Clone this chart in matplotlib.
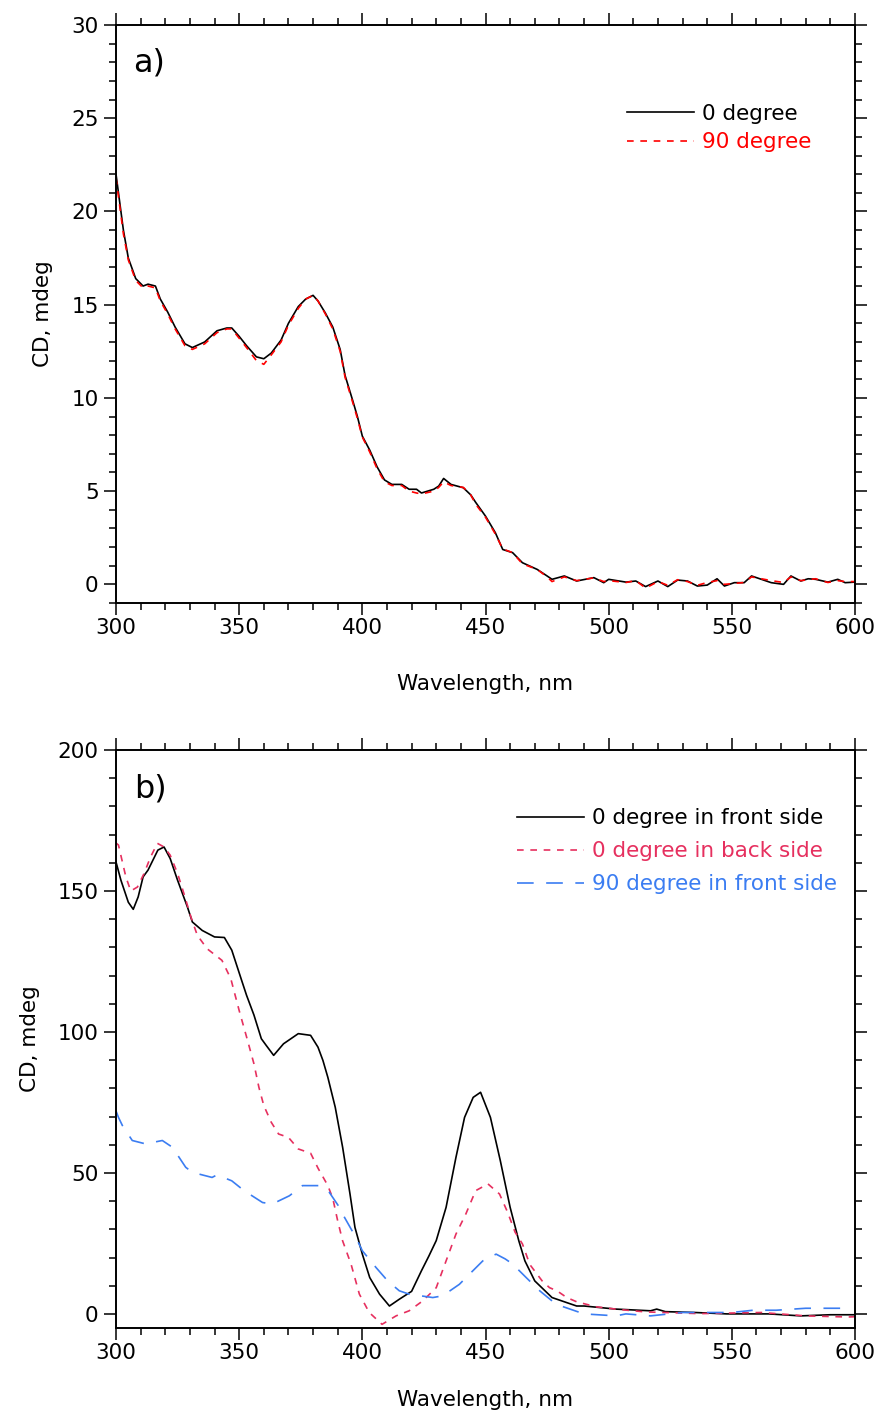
import matplotlib
matplotlib.use("Agg")
import matplotlib.pyplot as plt
from matplotlib.ticker import MultipleLocator

# ---- panel a) : CD of film, 0 vs 90 degree rotation ----
wl_a = [300, 301, 302, 303, 305, 308, 311, 313, 316, 318, 321, 324, 328, 331, 336,
        341, 345, 347, 350, 353, 357, 360, 363, 367, 370, 374, 377, 380, 382, 385,
        388, 391, 393, 396, 398, 400, 403, 406, 409, 412, 416, 419, 422, 424, 429,
        431, 433, 436, 441, 444, 446, 450, 454, 457, 461, 465, 471, 475, 477, 482,
        487, 494, 498, 500, 507, 511, 515, 520, 524, 528, 532, 536, 540, 544, 547,
        551, 555, 558, 562, 566, 571, 574, 578, 581, 584, 589, 593, 596, 600]
cd_a_0deg = [22.0, 21.0, 20.0, 19.0, 17.5, 16.4, 16.0, 16.1, 16.0, 15.3, 14.6, 13.8, 12.9, 12.7, 13.0,
             13.6, 13.75, 13.75, 13.3, 12.8, 12.2, 12.1, 12.4, 13.1, 14.0, 14.9, 15.3, 15.5, 15.2, 14.55,
             13.8, 12.6, 11.2, 9.9, 9.0, 7.95, 7.2, 6.3, 5.6, 5.36, 5.36, 5.1, 5.1, 4.9, 5.1,
             5.27, 5.68, 5.36, 5.18, 4.8, 4.4, 3.66, 2.77, 1.87, 1.7, 1.16, 0.8, 0.45, 0.27, 0.45,
             0.18, 0.36, 0.09, 0.27, 0.12, 0.18, -0.12, 0.18, -0.12, 0.23, 0.18, -0.09, -0.04, 0.3, -0.09,
             0.09, 0.09, 0.45, 0.27, 0.09, 0.0, 0.45, 0.18, 0.3, 0.27, 0.12, 0.27, 0.09, 0.12]
cd_a_90deg = [21.8, 20.8, 19.8, 18.8, 17.4, 16.3, 15.9, 16.0, 15.9, 15.2, 14.5, 13.7, 12.8, 12.6, 12.9,
              13.5, 13.7, 13.7, 13.2, 12.7, 12.0, 11.8, 12.3, 13.0, 13.9, 14.8, 15.3, 15.5, 15.2, 14.5,
              13.7, 12.5, 11.1, 9.8, 8.9, 7.9, 7.1, 6.2, 5.5, 5.3, 5.3, 5.0, 4.9, 4.85, 5.0,
              5.2, 5.5, 5.3, 5.2, 4.8, 4.3, 3.6, 2.7, 1.9, 1.7, 1.1, 0.8, 0.4, 0.15, 0.4,
              0.2, 0.35, 0.15, 0.2, 0.1, 0.2, -0.2, 0.15, -0.05, 0.25, 0.15, -0.05, 0.1, 0.2, 0.0,
              0.05, 0.1, 0.4, 0.3, 0.2, 0.1, 0.4, 0.2, 0.25, 0.3, 0.1, 0.2, 0.15, 0.15]

# ---- panel b) : front / back side and 90 degree ----
wl_b_front0 = [300, 302, 305, 307, 309, 311, 313, 317, 319.5, 322, 325, 329, 331, 335, 340,
               344, 347, 351, 353, 356, 359, 361, 364, 368, 374, 379, 382, 384, 386, 389,
               392, 395, 397, 400, 403, 407, 411, 415, 420, 424, 427, 430, 434, 438, 441.5, 445,
               448, 452, 456, 460, 463.5, 466, 470, 477, 483, 487, 490, 503, 517, 519.5, 523,
               535, 548, 565, 578, 590, 600]
cd_b_front0 = [160.3, 153.8, 146.0, 143.5, 147.9, 155.0, 157.4, 164.5, 165.6, 161.5, 153.8, 144.3, 139.0, 136.0, 133.7,
               133.5, 129.0, 118.3, 113.0, 106.0, 97.6, 95.2, 91.7, 95.8, 99.4, 98.8, 94.6, 89.9, 83.9, 73.3,
               59.1, 42.5, 30.7, 21.2, 12.9, 7.0, 2.8, 5.2, 8.0, 15.3, 20.5, 26.0, 37.8, 55.5, 69.7, 76.8,
               78.6, 69.7, 54.4, 37.8, 26.0, 18.8, 11.7, 5.8, 4.0, 2.8, 2.8, 1.7, 1.1, 1.7, 0.8,
               0.5, 0.0, 0.0, -0.7, -0.3, -0.3]

wl_b_back0 = [300, 301, 304, 306, 308.7, 311.4, 314, 316.8, 319.5, 322, 325, 327.6, 330.4, 333, 337,
              343, 346.6, 350, 353.4, 356, 358, 360, 363, 366, 370, 374, 379, 382, 386, 388,
              390, 392, 395.4, 398.8, 402.8, 408, 413.7, 419, 424.5, 430, 434, 438, 442, 446, 451,
              455.7, 459, 462, 465, 468, 473, 476, 479, 483, 487, 495, 505, 515, 537, 562,
              580, 597, 600]
cd_b_back0 = [167.0, 166.3, 155.0, 150.0, 151.4, 156.2, 162.0, 166.9, 165.6, 162.7, 156.2, 149.0, 140.8, 134.3, 129.5,
              125.4, 118.9, 107.6, 97.0, 88.7, 80.4, 73.9, 68.0, 63.8, 62.6, 58.5, 57.0, 51.7, 45.5, 41.0,
              33.0, 25.9, 17.7, 7.0, 0.5, -3.7, -0.7, 1.1, 4.6, 9.3, 18.8, 28.3, 35.4, 43.7, 46.1,
              42.5, 36.0, 29.0, 24.8, 17.5, 11.7, 9.3, 8.2, 5.8, 4.3, 2.5, 1.5, 0.7, 0.1, 0.5,
              -0.7, -1.1, -1.0]

wl_b_front90 = [300, 301, 302.6, 306.6, 312, 318.8, 322.9, 328.3, 331, 339, 341, 347, 352, 359.5, 363.5,
                370.4, 375.7, 382.5, 386.6, 390.7, 392, 397.4, 400, 405.6, 410.3, 415, 419, 428.6, 432.6,
                439.4, 443.5, 448.9, 454.3, 458, 461, 466.5, 472, 478.7, 485, 490, 503, 507, 517, 530,
                550, 558.6, 568, 580, 591, 597]
cd_b_front90 = [72.0, 69.7, 66.8, 61.5, 60.3, 61.5, 59.1, 52.0, 50.2, 48.4, 49.3, 47.2, 43.7, 39.5, 39.0,
                41.9, 45.5, 45.5, 43.1, 37.8, 35.4, 27.1, 22.4, 16.4, 11.7, 8.2, 7.0, 5.8, 6.4,
                10.5, 14.1, 18.8, 21.2, 19.5, 17.7, 12.9, 8.2, 3.4, 1.5, 0.0, -0.7, 0.0, -0.7, 0.5,
                0.5, 1.3, 1.3, 2.0, 2.0, 2.0]

red_a = "#ff0000"
red_b = "#e6305f"
blue_b = "#3b7df2"
FS = 15.5

plt.rcParams["font.family"] = ["DejaVu Sans"]
plt.rcParams["font.size"] = FS


def style_axes(ax, ymin, ymax, ymajor, yminor):
    ax.set_xlim(300, 600)
    ax.set_ylim(ymin, ymax)
    ax.xaxis.set_major_locator(MultipleLocator(50))
    ax.xaxis.set_minor_locator(MultipleLocator(10))
    ax.yaxis.set_major_locator(MultipleLocator(ymajor))
    ax.yaxis.set_minor_locator(MultipleLocator(yminor))
    ax.tick_params(which="both", direction="out", top=True, right=True, width=1.1, colors="black")
    ax.tick_params(which="major", length=8.5, labelsize=FS)
    ax.tick_params(which="minor", length=4.7)
    ax.tick_params(axis="x", which="major", pad=2.5)
    ax.tick_params(axis="y", which="major", pad=4)
    for s in ax.spines.values():
        s.set_linewidth(1.4)
    ax.set_ylabel("CD, mdeg", fontsize=FS, labelpad=13)


fig = plt.figure(figsize=(8.81, 14.15), dpi=100)
W, H = 881, 1415
ax1 = fig.add_axes([116 / W, 1 - 603 / H, 739 / W, 578 / H])
ax2 = fig.add_axes([116 / W, 1 - 1328 / H, 739 / W, 578 / H])

# panel a
l0, = ax1.plot(wl_a, cd_a_0deg, color="black", lw=1.2, label="0 degree")
l90, = ax1.plot(wl_a, cd_a_90deg, color=red_a, lw=1.2, dashes=(4, 4), label="90 degree")
style_axes(ax1, -1, 30, 5, 1)
ax1.set_xlabel("Wavelength, nm", fontsize=FS, labelpad=26)
ax1.text(0.023, 0.919, "a)", transform=ax1.transAxes, fontsize=23, va="baseline")
ax1.legend(handles=[l0, l90], loc="upper left", bbox_to_anchor=(0.6915, 0.864),
           frameon=False, borderpad=0, borderaxespad=0, handlelength=3.1,
           handletextpad=0.4, labelspacing=0.4, labelcolor="linecolor", fontsize=FS)

# panel b
b1, = ax2.plot(wl_b_front0, cd_b_front0, color="black", lw=1.2, label="0 degree in front side")
b2, = ax2.plot(wl_b_back0, cd_b_back0, color=red_b, lw=1.2, dashes=(4, 4), label="0 degree in back side")
b3, = ax2.plot(wl_b_front90, cd_b_front90, color=blue_b, lw=1.2, dashes=(10, 7.5), label="90 degree in front side")
style_axes(ax2, -5, 200, 50, 10)
ax2.set_xlabel("Wavelength, nm", fontsize=FS, labelpad=19)
ax2.text(0.025, 0.917, "b)", transform=ax2.transAxes, fontsize=23, va="baseline")
ax2.legend(handles=[b1, b2, b3], loc="upper left", bbox_to_anchor=(0.5426, 0.899),
           frameon=False, borderpad=0, borderaxespad=0, handlelength=3.1,
           handletextpad=0.4, labelspacing=0.6, labelcolor="linecolor", fontsize=FS)

fig.savefig("out.png", dpi=100)
